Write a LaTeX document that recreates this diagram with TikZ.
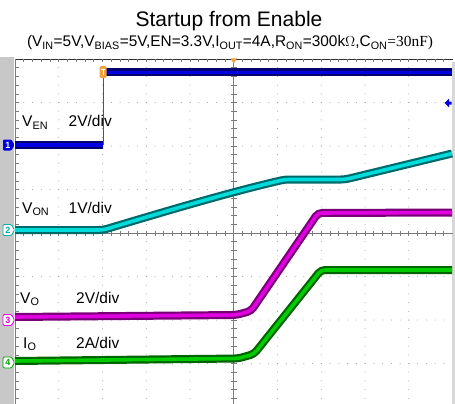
\documentclass[tikz,border=0pt]{standalone}
\usepackage{fontspec}
\setmainfont{Liberation Sans}
\newfontfamily\serifface{Liberation Serif}
\definecolor{bezel}{HTML}{C8C8C8}
\definecolor{griddot}{HTML}{9A9A9A}
\definecolor{axisgray}{HTML}{7A7A7A}
\definecolor{frame}{HTML}{303030}
\definecolor{enDark}{HTML}{00006E}
\definecolor{enLite}{HTML}{0000E0}
\definecolor{onDark}{HTML}{006A6A}
\definecolor{onLite}{HTML}{00DCDC}
\definecolor{voDark}{HTML}{7A007A}
\definecolor{voLite}{HTML}{E000E0}
\definecolor{ioDark}{HTML}{006400}
\definecolor{ioLite}{HTML}{00CC00}
\definecolor{trig}{HTML}{F2A23A}
\newcommand{\lo}[1]{\textsubscript{#1}}
\tikzset{
  trace/.style 2 args={draw=#1, double=#2, line width=2.2pt, double distance=3.6pt,
    rounded corners=4pt, line cap=butt},
  scalelabel/.style={anchor=base west, inner sep=0pt, font=\fontsize{15.5}{16}\selectfont},
  chtag/.style={rounded corners=1.2pt, line width=0.8pt},
}
\begin{document}
\begin{tikzpicture}[x=1pt,y=-1pt]
\useasboundingbox (0,0) rectangle (455,404);
\fill[white] (0,0) rectangle (455,404);

% title block
\node[anchor=base, inner sep=0pt, font=\fontsize{21}{24}\selectfont] (title) at (229,27) {Startup from Enable};
\node[anchor=base, inner sep=0pt, font=\fontsize{15.4}{17}\selectfont] (cond) at (230,47)
  {(V\lo{IN}=5V,V\lo{BIAS}=5V,EN=3.3V,I\lo{OUT}=4A,R\lo{ON}=300k{\serifface$\Omega$},C\lo{ON}{\serifface=30nF)}};

% screen bezel strips
\fill[bezel] (0,57) rectangle (14,404);
\fill[bezel!70] (451.5,62) rectangle (455,404);

% dotted graticule
\foreach \gx in {58.75,102.5,146.25,190,277.5,321.25,365,408.75}{
  \foreach \k in {1,...,40}{
    \fill[griddot] (\gx,59+\k*8.7) circle (0.5);
  }
}
\foreach \gy in {102.5,146,189.5,276.5,320,363.5}{
  \foreach \k in {1,...,49}{
    \fill[griddot] (15+\k*8.75,\gy) circle (0.5);
  }
}

% centre axes with minor ticks
\draw[axisgray, line width=0.8pt] (233.75,59) -- (233.75,404);
\draw[axisgray, line width=0.8pt] (15,233) -- (452.5,233);
\foreach \k in {1,...,40}{
  \draw[axisgray, line width=0.6pt] (231,59+\k*8.7) -- (236.5,59+\k*8.7);
}
\foreach \k in {1,...,49}{
  \draw[axisgray, line width=0.6pt] (15+\k*8.75,230.5) -- (15+\k*8.75,235.5);
}

% frame edges with ticks
\draw[frame, line width=0.9pt] (15,59) -- (452.5,59);
\draw[axisgray, line width=0.8pt] (15,59) -- (15,404);
\foreach \k in {1,...,49}{
  \draw[axisgray, line width=0.6pt] (15+\k*8.75,59) -- (15+\k*8.75,62.5);
}
\foreach \k in {1,...,40}{
  \draw[axisgray, line width=0.6pt] (15,59+\k*8.7) -- (18.5,59+\k*8.7);
}

% CH1: enable
\draw[enDark!70, line width=0.9pt] (103,145) -- (103,72.5);
\draw[trace={enDark}{enLite}] (15,145) -- (103,145);
\draw[trace={enDark}{enLite}] (103,72.5) -- (452,72.5);

% CH2: ON pin voltage
\draw[trace={onDark}{onLite}] (15,230) -- (103,230)
  .. controls (160,213) and (230,192) .. (285,179.5) -- (345,179.5) -- (452,153.5);

% CH3: output voltage
\draw[trace={voDark}{voLite}] (15,317) -- (236,315) -- (251,311) -- (318,213) -- (452,212.5);

% CH4: output current
\draw[trace={ioDark}{ioLite}] (15,361) -- (238,358.5) -- (254,354) -- (321,270) -- (452,270);

% scale labels
\node[scalelabel] (enname) at (22,126.5) {V\lo{EN}};
\node[scalelabel] (enscale) at (68.5,126) {2V/div};
\node[scalelabel] (onname) at (22,213) {V\lo{ON}};
\node[scalelabel] (onscale) at (68.5,213) {1V/div};
\node[scalelabel] (voname) at (20,303) {V\lo{O}};
\node[scalelabel] (voscale) at (76,303) {2V/div};
\node[scalelabel] (ioname) at (23,348) {I\lo{O}};
\node[scalelabel] (ioscale) at (76,348) {2A/div};

% channel ground markers
\fill[enLite, chtag] (3,139.5) -- (11.5,139.5) -- (14.5,145) -- (11.5,150.5) -- (3,150.5) -- cycle;
\node[white, font=\fontsize{9}{9}\selectfont\bfseries, inner sep=0pt] (tag1) at (8,145) {1};
\draw[onLite!80!black, fill=white, chtag] (3,224.5) -- (11.5,224.5) -- (14.5,230) -- (11.5,235.5) -- (3,235.5) -- cycle;
\node[onLite!80!black, font=\fontsize{9}{9}\selectfont\bfseries, inner sep=0pt] (tag2) at (8,230) {2};
\draw[voLite, fill=white, chtag] (3,314.5) -- (11.5,314.5) -- (14.5,320) -- (11.5,325.5) -- (3,325.5) -- cycle;
\node[voLite, font=\fontsize{9}{9}\selectfont\bfseries, inner sep=0pt] (tag3) at (8,320) {3};
\draw[ioLite!80!black, fill=white, chtag] (3,357) -- (11.5,357) -- (14.5,362.5) -- (11.5,368) -- (3,368) -- cycle;
\node[ioLite!80!black, font=\fontsize{9}{9}\selectfont\bfseries, inner sep=0pt] (tag4) at (8,362.5) {4};

% trigger position and level markers
\fill[trig] (230.5,58.5) -- (237,58.5) -- (233.75,63.5) -- cycle;
\fill[trig, rounded corners=1.5pt] (99.5,66) rectangle (106.5,78);
\draw[white, line width=0.9pt] (101.2,69) -- (104.8,69) (103,69) -- (103,75.5);
\fill[enLite] (444.5,103) -- (449,98.5) -- (449,101.5) -- (451.5,101.5) -- (451.5,104.5) -- (449,104.5) -- (449,107.5) -- cycle;
\end{tikzpicture}
\end{document}
